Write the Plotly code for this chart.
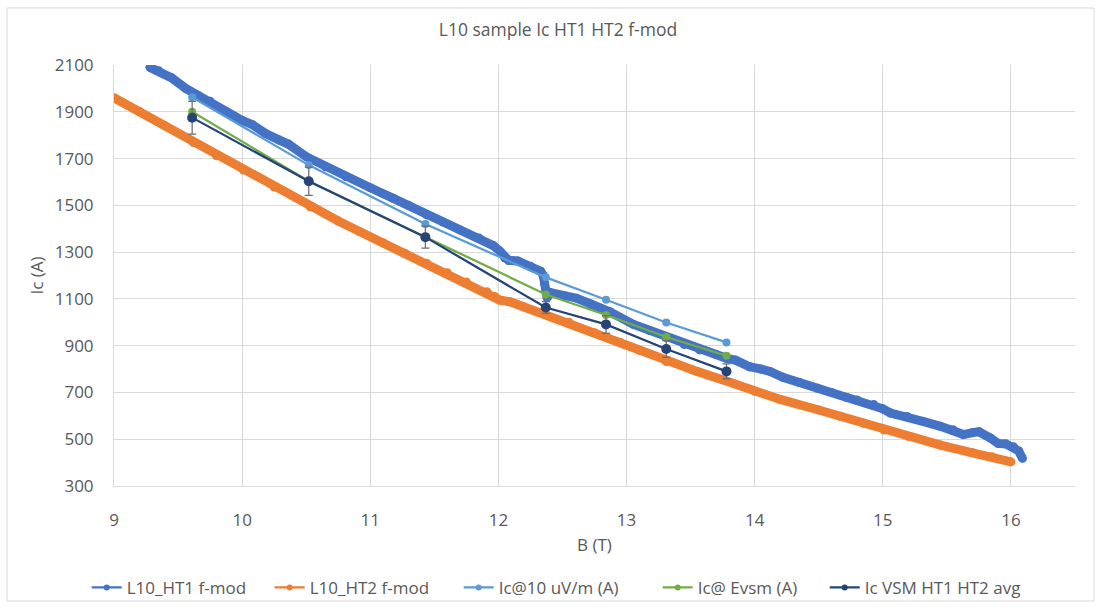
import plotly.graph_objects as go

# ---- data ----
HT1_B = [9.28, 9.35, 9.45, 9.56, 9.66, 9.75, 9.88, 10.0, 10.08, 10.18,
         10.29, 10.36, 10.5, 10.65, 10.81, 11.0, 11.18, 11.3, 11.44, 11.57,
         11.70, 11.85, 11.96, 12.01, 12.05, 12.08, 12.15, 12.25, 12.33, 12.35,
         12.36, 12.37, 12.38, 12.40, 12.50, 12.61, 12.72, 12.87, 13.05, 13.18,
         13.31, 13.45, 13.57, 13.70, 13.78, 13.85, 13.96, 14.05, 14.12, 14.22,
         14.35, 14.49, 14.60, 14.72, 14.80, 14.93, 15.0, 15.06, 15.19, 15.32,
         15.45, 15.55, 15.63, 15.70, 15.75, 15.84, 15.90, 15.96, 16.02, 16.06,
         16.09]
HT1_Ic = [2090, 2075, 2045, 2000, 1968, 1945, 1900, 1863, 1845, 1808,
          1779, 1762, 1708, 1665, 1622, 1575, 1530, 1500, 1459, 1428,
          1395, 1360, 1328, 1305, 1275, 1265, 1262, 1240, 1218, 1200,
          1165, 1130, 1105, 1128, 1115, 1103, 1078, 1045, 992, 965,
          935, 905, 882, 862, 846, 838, 810, 800, 790, 765,
          742, 718, 700, 678, 668, 648, 630, 612, 597, 575,
          555, 540, 520, 528, 532, 505, 482, 480, 468, 450,
          418]

HT2_B = [9.0, 9.2, 9.4, 9.62, 9.8, 10.01, 10.25, 10.53, 10.75, 10.92,
         11.1, 11.27, 11.44, 11.6, 11.75, 11.91, 11.97, 12.01, 12.09, 12.2,
         12.35, 12.55, 12.75, 12.95, 13.1, 13.31, 13.55, 13.83, 14.0, 14.2,
         14.5, 14.67, 14.85, 15.01, 15.2, 15.45, 15.7, 15.85, 16.0]
HT2_Ic = [1960, 1900, 1840, 1768, 1712, 1651, 1578, 1494, 1433, 1387,
          1340, 1295, 1252, 1212, 1172, 1131, 1110, 1095, 1088, 1065,
          1038, 1000, 955, 915, 880, 832, 790, 739, 705, 670,
          625, 598, 568, 539, 512, 475, 442, 425, 403]

PT_B = [9.61, 10.52, 11.43, 12.37, 12.84, 13.31, 13.78]
IC_10UV = [1962, 1672, 1420, 1192, 1096, 999, 914]
IC_EVSM = [1900, 1603, 1365, 1119, 1031, 937, 857]
IC_VSM_AVG = [1875, 1603, 1364, 1063, 991, 886, 790]
IC_VSM_ERR = [70, 60, 47, 25, 38, 36, 32]

NAMES = ["L10_HT1 f-mod", "L10_HT2 f-mod", "Ic@10 uV/m (A)", "Ic@ Evsm (A)", "Ic VSM HT1 HT2 avg"]
COLORS = ["#4472C4", "#ED7D31", "#5B9BD5", "#70AD47", "#264478"]
LEGEND_W = [138, 144, 154, 122, 175]

X_TICKS = [9, 10, 11, 12, 13, 14, 15, 16]
Y_TICKS = [300, 500, 700, 900, 1100, 1300, 1500, 1700, 1900, 2100]

FONT = "Open Sans, sans-serif"
TXT = "#595959"
GRID = "#D9D9D9"

fig = go.Figure()

# thick dense curves
fig.add_trace(go.Scatter(x=HT1_B, y=HT1_Ic, mode="lines+markers", showlegend=False,
                         line=dict(color=COLORS[0], width=9),
                         marker=dict(color=COLORS[0], size=9)))
fig.add_trace(go.Scatter(x=HT2_B, y=HT2_Ic, mode="lines+markers", showlegend=False,
                         line=dict(color=COLORS[1], width=9),
                         marker=dict(color=COLORS[1], size=9)))
# point series
fig.add_trace(go.Scatter(x=PT_B, y=IC_10UV, mode="lines+markers", showlegend=False,
                         line=dict(color=COLORS[2], width=2.25),
                         marker=dict(color=COLORS[2], size=8)))
fig.add_trace(go.Scatter(x=PT_B, y=IC_EVSM, mode="lines+markers", showlegend=False,
                         line=dict(color=COLORS[3], width=2.25),
                         marker=dict(color=COLORS[3], size=8)))
fig.add_trace(go.Scatter(x=PT_B, y=IC_VSM_AVG, mode="lines+markers", showlegend=False,
                         line=dict(color=COLORS[4], width=2.25),
                         marker=dict(color=COLORS[4], size=10),
                         error_y=dict(type="data", array=IC_VSM_ERR, visible=True,
                                      color="#6E6E6E", thickness=1.25, width=4)))

# legend entries
for name, col, lw in zip(NAMES, COLORS, LEGEND_W):
    fig.add_trace(go.Scatter(x=[None], y=[None], mode="lines+markers", name=name,
                             line=dict(color=col, width=2.25),
                             marker=dict(color=col, size=6),
                             legendwidth=lw))

# chart border
fig.add_shape(type="rect", xref="paper", yref="paper",
              x0=-0.1113, x1=1.0198, y0=-0.2732, y1=1.1354,
              line=dict(color=GRID, width=1), fillcolor="rgba(0,0,0,0)", layer="below")

fig.update_layout(
    width=1104, height=610,
    margin=dict(l=114, r=29, t=65, b=124, autoexpand=False),
    paper_bgcolor="white", plot_bgcolor="white",
    font=dict(family=FONT, color=TXT, size=17),
    title=dict(text="L10 sample Ic HT1 HT2 f-mod", x=0.462, xref="paper", xanchor="center",
               y=1 - 30 / 610, yref="container", yanchor="middle",
               font=dict(family=FONT, size=17.5, color=TXT)),
    xaxis=dict(range=[9, 16.5], tickvals=X_TICKS, showgrid=True, gridcolor=GRID, gridwidth=1,
               zeroline=False, showline=True, linecolor=GRID, linewidth=1, automargin=False,
               ticks="", ticklabelstandoff=19,
               tickfont=dict(family=FONT, size=17, color=TXT),
               title=dict(text="B (T)", standoff=8, font=dict(family=FONT, size=17, color=TXT))),
    yaxis=dict(range=[300, 2100], tickvals=Y_TICKS, showgrid=True, gridcolor=GRID, gridwidth=1,
               zeroline=False, showline=True, linecolor=GRID, linewidth=1, automargin=False,
               ticks="", ticklabelstandoff=16,
               tickfont=dict(family=FONT, size=17, color=TXT),
               title=dict(text="Ic (A)", standoff=6, font=dict(family=FONT, size=17, color=TXT))),
    legend=dict(orientation="h", x=-0.0284, xanchor="left", y=-0.242, yanchor="middle",
                font=dict(family=FONT, size=17, color=TXT), bgcolor="rgba(0,0,0,0)",
                itemwidth=30, tracegroupgap=0),
    showlegend=True,
)

fig.write_html("out.html")
